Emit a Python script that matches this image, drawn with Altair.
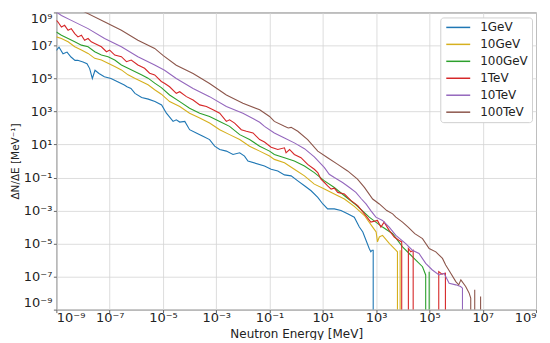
import altair as alt
import pandas as pd

SERIES = ["1GeV", "10GeV", "100GeV", "1TeV", "10TeV", "100TeV"]
COLORS = ["#1f77b4", "#d6b01e", "#2ca02c", "#d62728", "#9467bd", "#8c564b"]
TICK_EXP = [-9, -7, -5, -3, -1, 1, 3, 5, 7, 9]

Z = None  # empty bin (zero count)

# (log10 E [MeV], log10 dN/dE [MeV^-1])
P_1GEV = [(-9.0, 6.7), (-8.9, 6.9), (-8.75, 6.5), (-8.6, 6.6), (-8.45, 6.3), (-8.3, 6.1), (-8.2, 6.1),
          (-8.0, 6.0), (-7.85, 5.9), (-7.75, 5.6), (-7.65, 5.0), (-7.55, 5.5), (-7.4, 5.3), (-7.2, 5.1),
          (-6.95, 5.0), (-6.7, 4.8), (-6.45, 4.6), (-6.35, 4.5), (-6.2, 4.4), (-6.05, 4.1), (-5.8, 3.85),
          (-5.55, 3.75), (-5.3, 3.6), (-5.05, 3.4), (-4.87, 2.9), (-4.62, 2.4), (-4.5, 2.5), (-4.37, 2.36),
          (-4.18, 2.4), (-4.0, 1.9), (-3.75, 1.7), (-3.5, 1.5), (-3.25, 1.3), (-3.06, 0.9), (-2.87, 0.7),
          (-2.62, 0.6), (-2.37, 0.4), (-2.12, 0.5), (-1.94, 0.3), (-1.81, 0.0), (-1.19, -0.3), (-0.94, -0.5),
          (-0.69, -0.6), (-0.44, -0.84), (-0.19, -0.9), (0.06, -1.2), (0.31, -1.5), (0.56, -1.8), (0.81, -2.2),
          (1.0, -2.6), (1.18, -2.9), (1.43, -2.9), (1.68, -3.0), (1.93, -3.2), (2.18, -3.4), (2.37, -4.0),
          (2.5, -4.3), (2.62, -4.8), (2.74, -5.3), (2.8, -5.5), (2.85, -5.4), (2.89, -5.4), (2.89, Z)]

P_10GEV = [(-9.0, 7.52), (-8.81, 7.42), (-8.56, 7.22), (-8.31, 6.92), (-8.06, 6.72), (-7.81, 6.52), (-7.56, 6.22),
           (-7.31, 6.12), (-7.06, 5.92), (-6.81, 5.72), (-6.56, 5.52), (-6.31, 5.22), (-6.06, 5.02), (-5.81, 4.82),
           (-5.56, 4.62), (-5.31, 4.32), (-5.06, 4.05), (-4.75, 3.6), (-4.37, 3.3), (-4.0, 2.9), (-3.62, 2.6),
           (-3.25, 2.3), (-2.87, 1.9), (-2.5, 1.6), (-2.12, 1.3), (-1.75, 0.9), (-1.37, 0.6), (-1.0, 0.3),
           (-0.82, 0.1), (-0.44, -0.1), (-0.07, -0.5), (0.31, -0.9), (0.68, -1.4), (1.06, -1.7), (1.43, -2.0),
           (1.81, -2.3), (2.18, -2.75), (2.56, -3.3), (2.87, -4.0), (3.0, -4.3), (3.05, -4.9), (3.12, -4.6),
           (3.24, -4.5), (3.5, -5.0), (3.74, -5.4), (3.8, -5.5), (3.8, Z), (3.9, Z), (3.9, -5.4), (3.9, Z)]

P_100GEV = [(-9.0, 7.82), (-8.81, 7.62), (-8.56, 7.42), (-8.31, 7.22), (-8.06, 7.02), (-7.81, 6.92), (-7.56, 6.62),
            (-7.31, 6.42), (-7.06, 6.32), (-6.81, 6.12), (-6.56, 5.82), (-6.31, 5.62), (-6.06, 5.42), (-5.81, 5.22),
            (-5.56, 5.02), (-5.31, 4.72), (-5.06, 4.45), (-4.75, 4.0), (-4.37, 3.6), (-4.0, 3.2), (-3.62, 2.9),
            (-3.25, 2.7), (-2.87, 2.4), (-2.5, 2.1), (-2.12, 1.6), (-1.75, 1.3), (-1.37, 0.9), (-1.0, 0.6),
            (-0.82, 0.4), (-0.44, 0.2), (-0.07, 0.0), (0.31, -0.3), (0.68, -0.7), (1.06, -1.2), (1.43, -1.6),
            (1.81, -2.1), (2.24, -2.65), (2.74, -3.4), (3.24, -4.0), (3.62, -4.4), (3.99, -5.2), (4.24, -5.6),
            (4.49, -6.0), (4.74, -6.4), (4.86, -6.9), (4.86, Z), (4.99, Z), (4.99, -6.7), (4.99, Z)]

P_1TEV = [(-9.0, 8.52), (-8.94, 8.42), (-8.81, 8.12), (-8.69, 8.22), (-8.56, 7.92), (-8.44, 8.02), (-8.31, 7.72),
          (-8.19, 7.52), (-8.06, 7.62), (-7.94, 7.32), (-7.81, 7.42), (-7.69, 7.22), (-7.56, 7.12), (-7.31, 6.92),
          (-7.12, 6.62), (-7.0, 6.72), (-6.81, 6.42), (-6.56, 6.32), (-6.37, 6.02), (-6.19, 6.12), (-5.94, 5.82),
          (-5.69, 5.62), (-5.5, 5.32), (-5.31, 5.22), (-5.06, 4.82), (-4.93, 4.7), (-4.75, 4.5), (-4.5, 4.1),
          (-4.37, 4.2), (-4.12, 3.9), (-3.87, 3.7), (-3.62, 3.4), (-3.37, 3.3), (-3.12, 3.1), (-2.87, 2.9),
          (-2.62, 2.4), (-2.5, 2.5), (-2.31, 2.3), (-2.06, 1.9), (-1.87, 1.8), (-1.62, 1.7), (-1.37, 1.3),
          (-1.19, 1.15), (-0.94, 0.84), (-0.69, 0.7), (-0.44, 0.8), (-0.38, 0.5), (-0.25, 0.7), (-0.07, 0.4),
          (0.18, 0.2), (0.43, -0.2), (0.68, -0.5), (0.81, -0.7), (0.93, -1.1), (1.06, -1.3), (1.18, -1.5),
          (1.31, -1.7), (1.43, -1.64), (1.56, -1.9), (1.81, -2.0), (2.06, -2.4), (2.31, -2.7), (2.56, -3.2),
          (2.8, -3.7), (3.05, -3.6), (3.18, -4.0), (3.3, -3.7), (3.49, -4.2), (3.68, -4.6), (3.85, -4.8),
          (3.96, -4.9), (3.96, Z), (4.21, Z), (4.21, -5.3), (4.3, -5.5), (4.39, -5.4), (4.39, Z),
          (5.35, Z), (5.35, -6.7), (5.47, -6.85), (5.6, -6.8), (5.6, Z)]

P_10TEV = [(-9.0, 9.02), (-8.81, 8.82), (-8.44, 8.52), (-7.81, 8.02), (-7.19, 7.42), (-6.56, 6.92), (-5.94, 6.32),
           (-5.31, 5.82), (-4.94, 5.5), (-4.5, 5.0), (-3.87, 4.4), (-3.25, 3.9), (-2.62, 3.3), (-2.0, 2.9),
           (-1.37, 2.35), (-1.19, 2.1), (-0.82, 1.7), (-0.44, 1.4), (-0.07, 1.1), (0.31, 0.75), (0.68, 0.25),
           (1.06, -0.4), (1.24, -0.8), (1.43, -1.0), (1.74, -1.3), (2.0, -1.6), (2.24, -1.9), (2.45, -2.3),
           (2.62, -2.6), (2.8, -3.0), (2.99, -3.4), (3.24, -3.6), (3.49, -4.0), (3.74, -4.5), (4.11, -5.0),
           (4.36, -5.4), (4.61, -5.6), (4.86, -6.2), (5.11, -6.6), (5.36, -6.9), (5.55, -6.8), (5.74, -7.4),
           (5.99, -7.5), (6.17, -7.6), (6.24, -7.7), (6.24, Z)]

P_100TEV = [(-9.0, 9.95), (-7.93, 9.02), (-7.18, 8.42), (-6.56, 7.92), (-5.94, 7.32), (-5.31, 6.82), (-5.0, 6.4),
            (-4.5, 5.8), (-3.87, 5.3), (-3.25, 4.7), (-2.62, 4.0), (-2.0, 3.5), (-1.37, 3.1), (-1.0, 2.7),
            (-0.82, 2.4), (-0.44, 2.1), (-0.3, 2.0), (-0.19, 2.04), (0.06, 1.8), (0.43, 1.3), (0.81, 0.6),
            (1.18, 0.2), (1.56, -0.2), (1.93, -0.6), (2.3, -1.1), (2.56, -1.6), (2.87, -2.3), (3.12, -2.6),
            (3.4, -3.0), (3.62, -3.2), (3.74, -3.4), (3.99, -3.7), (4.2, -4.0), (4.45, -4.4), (4.74, -4.7),
            (4.99, -5.3), (5.24, -5.5), (5.49, -5.9), (5.61, -6.3), (5.8, -6.8), (5.99, -7.3), (6.1, -7.5),
            (6.18, -7.2), (6.36, -7.6), (6.49, -8.0), (6.55, -8.3), (6.55, Z), (6.7, Z), (6.7, -7.8),
            (6.7, Z), (6.92, Z), (6.92, -8.2), (6.92, Z)]

DATA = [P_1GEV, P_10GEV, P_100GEV, P_1TEV, P_10TEV, P_100TEV]

ZERO_FLOOR = 1e-30  # empty bins fall far below the axis and are clipped
rows = []
for name, pts in zip(SERIES, DATA):
    for i, (lx, ly) in enumerate(pts):
        rows.append({"series": name, "idx": i, "E": 10 ** lx,
                     "dNdE": ZERO_FLOOR if ly is None else 10 ** ly})
df = pd.DataFrame(rows)

SUP = str.maketrans("-0123456789", "⁻⁰¹²³⁴⁵⁶⁷⁸⁹")
label_expr = " : ".join(
    f"round(log(datum.value)/LN10) == {e} ? '10{str(e).translate(SUP)}'" for e in TICK_EXP
) + " : ''"
tick_values = [10.0 ** e for e in TICK_EXP]

FONT = "DejaVu Sans"

chart = alt.Chart(df).mark_line(clip=True, strokeWidth=1.1).encode(
    x=alt.X("E:Q",
            scale=alt.Scale(type="log", domain=[1e-9, 1e9], nice=False),
            axis=alt.Axis(values=tick_values, labelExpr=label_expr, title="Neutron Energy [MeV]",
                          titleY=28, titleBaseline="alphabetic", labelPadding=-1)),
    y=alt.Y("dNdE:Q",
            scale=alt.Scale(type="log", domain=[1e-9, 1e9], nice=False),
            axis=alt.Axis(values=tick_values, labelExpr=label_expr, title="ΔN/ΔE [MeV⁻¹]",
                          titleX=-41, titleY=149, titleBaseline="middle", titleFontSize=10.5,
                          labelPadding=1.5, labelFlush=4)),
    color=alt.Color("series:N", scale=alt.Scale(domain=SERIES, range=COLORS),
                    legend=alt.Legend(title=None, orient="none", legendX=385, legendY=5,
                                      symbolType="M-2.4,0H2.4", symbolSize=100, symbolStrokeWidth=1.5,
                                      labelFontSize=12, labelFont=FONT, labelColor="#222",
                                      padding=4, rowPadding=5, labelOffset=16, symbolOffset=8,
                                      strokeColor="#d0d0d0", fillColor="white", cornerRadius=3)),
    order="idx:Q",
).properties(
    width=481, height=298,
    padding={"left": 48.5, "top": 4, "right": 6, "bottom": 30},
    autosize=alt.AutoSizeParams(type="none"),
).configure_view(
    stroke="#666", strokeWidth=1
).configure_axis(
    domain=False, grid=True, gridColor="#d4d4d4", gridWidth=0.8,
    tickColor="#666", tickSize=3, ticks=True,
    labelFont=FONT, labelFontSize=13, labelColor="#222",
    titleFont=FONT, titleFontWeight="normal", titleFontSize=12, titleColor="#222",
)

chart.save("out.html", embed_options={"renderer": "svg", "actions": False})
